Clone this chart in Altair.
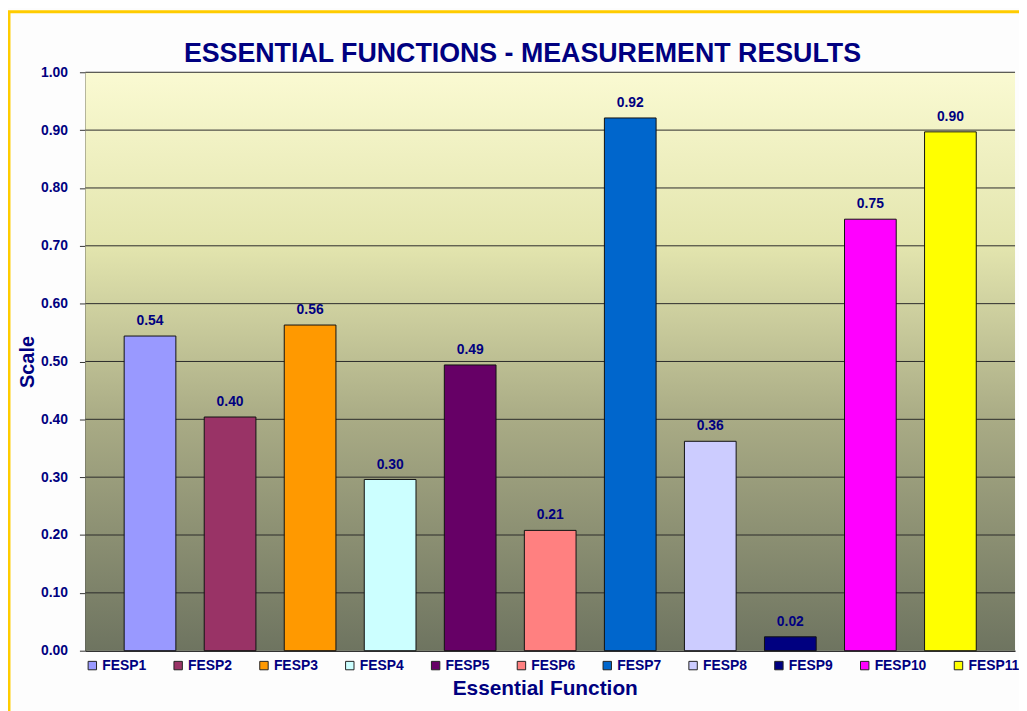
import altair as alt
import pandas as pd

categories = ["FESP1", "FESP2", "FESP3", "FESP4", "FESP5", "FESP6",
              "FESP7", "FESP8", "FESP9", "FESP10", "FESP11"]
values = [0.544, 0.404, 0.563, 0.296, 0.494, 0.208, 0.921, 0.362, 0.024, 0.746, 0.897]
colors = ["#9999FF", "#993366", "#FF9900", "#CCFFFF", "#660066", "#FF8080",
          "#0066CC", "#CCCCFF", "#000080", "#FF00FF", "#FFFF00"]
y_ticks = [0.0, 0.1, 0.2, 0.3, 0.4, 0.5, 0.6, 0.7, 0.8, 0.9, 1.0]

NAVY = "#000080"
FONT = "Liberation Sans"
W, H = 937, 583

df = pd.DataFrame({"cat": categories, "val": values})
grid_df = pd.DataFrame({"t": y_ticks[1:]})
one = pd.DataFrame({"a": [0]})

xscale = alt.Scale(domain=categories, paddingInner=0.354, paddingOuter=0.4845)
yscale = alt.Scale(domain=[0, 1], nice=False)

bg = alt.Chart(one).mark_rect(
    fill=alt.Gradient(
        gradient="linear", x1=0, x2=0, y1=0, y2=1,
        stops=[
            alt.GradientStop(offset=0, color="#FAFAD2"),
            alt.GradientStop(offset=0.3, color="#E3E5AE"),
            alt.GradientStop(offset=0.6, color="#A9AB85"),
            alt.GradientStop(offset=1, color="#6E7460"),
        ],
    )
).encode(x=alt.value(0), x2=alt.value(W), y=alt.value(0), y2=alt.value(H))

grid = alt.Chart(grid_df).mark_rule(color="#2a2a2a", strokeWidth=1).encode(
    y=alt.Y("t:Q", scale=yscale)
)

bars = alt.Chart(df).mark_bar(stroke="#111111", strokeWidth=1).encode(
    x=alt.X("cat:N", scale=xscale, sort=categories,
            axis=alt.Axis(labels=False, ticks=False, domain=True, domainColor="#333333",
                          domainWidth=1.5, title="Essential Function",
                          titleFont=FONT, titleFontSize=21, titleFontWeight="bold",
                          titleColor=NAVY, titleX=463, titleY=38,
                          titleBaseline="middle", titleAlign="center")),
    y=alt.Y("val:Q", scale=yscale,
            axis=alt.Axis(values=y_ticks, format=".2f", grid=False, tickSize=6,
                          tickColor="#333333", domainColor="#333333", domainWidth=1.5,
                          labelPadding=12, labelFont=FONT, labelFontSize=14,
                          labelFontWeight="bold", labelColor=NAVY,
                          title="Scale", titleFont=FONT, titleFontSize=20,
                          titleFontWeight="bold", titleColor=NAVY, titlePadding=3)),
    color=alt.Color("cat:N", scale=alt.Scale(domain=categories, range=colors),
                    legend=alt.Legend(orient="none", legendX=0, legendY=591,
                                      direction="horizontal", columns=11,
                                      columnPadding=24.5, title=None,
                                      symbolType="square", symbolSize=72,
                                      symbolStrokeColor="#222222", symbolStrokeWidth=1,
                                      symbolOpacity=1, labelOffset=3,
                                      labelFont=FONT, labelFontSize=14,
                                      labelFontWeight="bold", labelColor=NAVY)),
)

labels = alt.Chart(df).mark_text(
    dy=-8, baseline="bottom", font=FONT, fontSize=14, fontWeight="bold", color=NAVY
).encode(
    x=alt.X("cat:N", scale=xscale, sort=categories),
    y=alt.Y("val:Q", scale=yscale),
    text=alt.Text("val:Q", format=".2f"),
)

border = alt.Chart(one).mark_rect(filled=False, stroke="#FFCC00", strokeWidth=3).encode(
    x=alt.value(-77), x2=alt.value(W + 60), y=alt.value(-61), y2=alt.value(H + 100)
)

chart = alt.layer(bg, grid, bars, labels, border).properties(
    width=W, height=H,
    title=alt.Title("ESSENTIAL FUNCTIONS - MEASUREMENT RESULTS", font=FONT,
                    fontSize=27, fontWeight="bold", color=NAVY, anchor="middle",
                    dx=-28, offset=0, dy=58),
    autosize=alt.AutoSizeParams(type="none"),
    padding={"left": 78, "top": 62, "right": 4, "bottom": 58},
    background="#FDFDFD",
).configure_view(stroke=None)

chart.save("out.html", embed_options={"renderer": "svg", "actions": False})
